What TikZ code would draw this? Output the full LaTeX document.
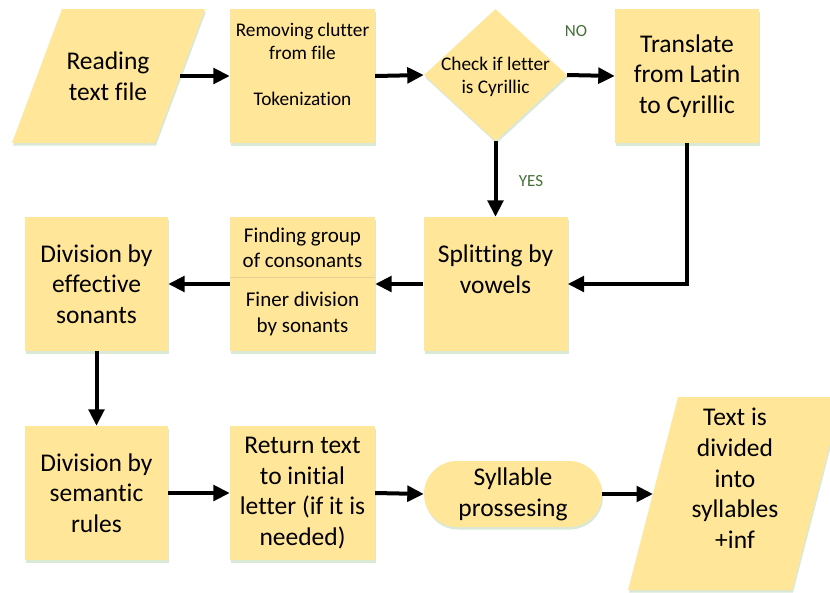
\documentclass[tikz,border=0pt]{standalone}
\usepackage{fontspec}
\setmainfont[Ligatures={NoCommon}]{Carlito}
\usetikzlibrary{arrows.meta,shapes.geometric,shadows}
\definecolor{boxfill}{RGB}{255,230,153}
\definecolor{shadowc}{RGB}{218,232,214}
\definecolor{lblgreen}{RGB}{70,110,55}
\definecolor{divline}{RGB}{232,208,150}
\tikzset{
  shp/.style={fill=boxfill, draw=none, drop shadow={shadow xshift=1pt, shadow yshift=-2.5pt, fill=shadowc, opacity=1}},
  box/.style={shp, rectangle, minimum width=144pt, minimum height=134pt, inner sep=0pt},
  big/.style={align=center, font=\fontsize{25.5}{30.7}\selectfont, inner sep=0pt},
  small/.style={align=center, font=\fontsize{19.3}{23}\selectfont, inner sep=0pt},
  mid/.style={align=center, font=\fontsize{21}{25.5}\selectfont, inner sep=0pt},
  lbl/.style={text=lblgreen, font=\fontsize{17}{19}\selectfont, inner sep=0pt},
  arr/.style={line width=4pt, -{Triangle[length=16.5pt,width=15.5pt]}},
}
\begin{document}
\begin{tikzpicture}[x=1pt,y=-1pt]
\useasboundingbox (0,0) rectangle (830,592);
\clip (0,0) rectangle (830,592);
% input parallelogram
\fill[shp] (62,9) -- (205,9) -- (155,143) -- (12,143) -- cycle;
\node[big] (read) at (108,76) {Reading\\text file};
\coordinate (readE) at (180,76);
% removing clutter
\node[box, minimum width=145pt] (clutter) at (302.5,76) {};
\node[small] (cluttertxt) at (302.5,64.5) {Removing clutter\\from file\\\mbox{}\\Tokenization};
% decision
\node[shp, diamond, minimum width=143pt, minimum height=132pt, inner sep=0pt] (chk) at (495.5,75) {};
\node[small] (chktxt) at (495.5,76.5) {Check if letter\\is Cyrillic};
\node[lbl] (no) at (576,31) {NO};
\node[lbl] (yes) at (531,181) {YES};
% translate
\node[box, big] (trans) at (687,76) {Translate\\from Latin\\to Cyrillic};
% splitting
\node[box] (split) at (495.5,284) {};
\node[big] (splittxt) at (495.5,269) {Splitting by\\vowels};
% finding
\node[box, minimum width=145pt] (find) at (302.5,284) {};
\draw[divline, line width=0.8pt] (find.west |- 0,277) -- (find.east |- 0,277);
\node[mid] (findtxt) at (302.5,248) {Finding group\\of consonants};
\node[mid] (finertxt) at (302.5,314) {Finer division\\by sonants};
% effective sonants
\node[box, big, minimum width=143pt] (eff) at (96.5,284) {Division by\\effective\\sonants};
% semantic rules
\node[box, big, minimum width=143pt] (sem) at (96.5,493) {Division by\\semantic\\rules};
% return text
\node[box, big, minimum width=145pt] (ret) at (302.5,493) {Return text\\to initial\\letter (if it is\\needed)};
% syllable processing
\node[shp, rectangle, rounded corners=33pt, minimum width=178pt, minimum height=66pt, inner sep=0pt, big] (syl) at (513,494) {Syllable\\prossesing};
% output parallelogram
\fill[shp] (678,397) -- (842,397) -- (792,590) -- (628,590) -- cycle;
\node[big] (out) at (735,478.5) {Text is\\divided\\into\\syllables\\+inf};
\coordinate (outW) at (653,494);
% connectors
\draw[arr] (readE) -- (clutter.west);
\draw[arr] (clutter.east) -- (chk.west);
\draw[arr] (chk.east) -- (trans.west);
\draw[arr] (chk.south) -- (split.north);
\draw[arr] (trans.south) |- (split.east);
\draw[arr] (split.west) -- (find.east);
\draw[arr] (find.west) -- (eff.east);
\draw[arr] (eff.south) -- (sem.north);
\draw[arr] (sem.east) -- (ret.west);
\draw[arr] (ret.east) -- (syl.west);
\draw[arr] (syl.east) -- (outW);
\end{tikzpicture}
\end{document}
